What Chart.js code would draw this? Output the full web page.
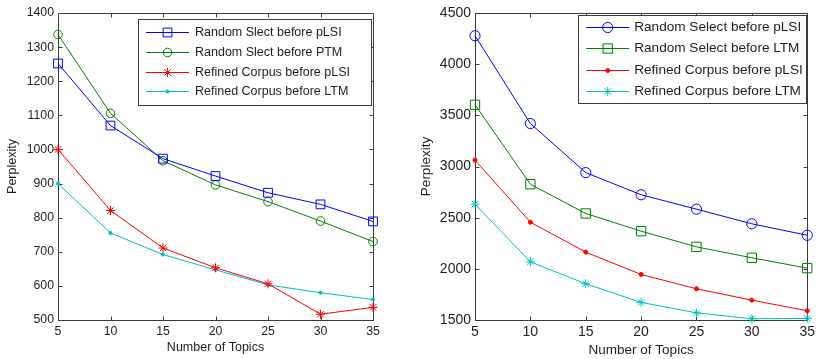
<!DOCTYPE html>
<html>
<head>
<meta charset="utf-8">
<script src="https://cdn.jsdelivr.net/npm/chart.js@4/dist/chart.umd.min.js"></script>
<style>
  html, body { margin: 0; padding: 0; background: #fff; }
  #wrap { position: relative; width: 819px; height: 359px; }
  #c1 { position: absolute; left: 0; top: 0; }
  #c2 { position: absolute; left: 410px; top: 0; }
</style>
</head>
<body>
<div id="wrap">
  <canvas id="c1" width="410" height="359"></canvas>
  <canvas id="c2" width="409" height="359"></canvas>
</div>
<script>
// Number of topics (shared x values)
const topics = [5, 10, 15, 20, 25, 30, 35];
const xTicks = [5, 10, 15, 20, 25, 30, 35];

// Left panel: perplexity per corpus / model
const randomSlectPlsi   = [1252, 1070, 973, 922, 873, 839, 789];
const randomSlectPtm    = [1337, 1106, 967, 896, 847, 790, 730];
const refinedPlsiLeft   = [1000, 821, 711, 653, 606, 517, 537];
const refinedLtmLeft    = [900, 755, 692, 647, 603, 580, 560];
const leftYTicks = [500, 600, 700, 800, 900, 1000, 1100, 1200, 1300, 1400];

// Right panel
const randomSelectPlsi  = [4278, 3420, 2940, 2724, 2583, 2440, 2328];
const randomSelectLtm   = [3603, 2827, 2541, 2368, 2215, 2108, 2007];
const refinedPlsiRight  = [3062, 2456, 2163, 1945, 1805, 1694, 1590];
const refinedLtmRight   = [2632, 2068, 1854, 1672, 1570, 1512, 1516];
const rightYTicks = [1500, 2000, 2500, 3000, 3500, 4000, 4500];

const BLUE = '#0000ff', GREEN = '#008000', RED = '#ff0000', CYAN = '#00bfbf';
const AXIS = '#3a3a3a', TEXT = '#1e1e1e';
const FAMILY = "'Liberation Sans', Arial, Helvetica, sans-serif";

function series(label, values, color, style, radius, filled) {
  return {
    label,
    data: topics.map((t, i) => ({ x: t, y: values[i] })),
    borderColor: color,
    backgroundColor: color,
    borderWidth: 1,
    pointStyle: style,
    pointRadius: radius,
    pointHoverRadius: radius,
    pointBorderWidth: 1,
    pointBorderColor: color,
    pointBackgroundColor: filled ? color : 'rgba(0,0,0,0)',
    tension: 0,
    clip: false
  };
}

// Axes box with MATLAB-style inward ticks, plus an in-plot legend
const boxPlugin = {
  id: 'boxAndLegend',
  beforeDatasetsDraw(chart) {
    const { ctx, chartArea: a, scales } = chart;
    ctx.save();
    ctx.strokeStyle = AXIS;
    ctx.lineWidth = 1;
    const L = Math.round(a.left) + 0.5, R = Math.round(a.right) + 0.5;
    const T = Math.round(a.top) + 0.5, B = Math.round(a.bottom) + 0.5;
    ctx.strokeRect(L, T, R - L, B - T);
    const tl = 4;
    ctx.beginPath();
    scales.x.ticks.forEach(t => {
      const px = Math.round(scales.x.getPixelForValue(t.value)) + 0.5;
      ctx.moveTo(px, B); ctx.lineTo(px, B - tl);
      ctx.moveTo(px, T); ctx.lineTo(px, T + tl);
    });
    scales.y.ticks.forEach(t => {
      const py = Math.round(scales.y.getPixelForValue(t.value)) + 0.5;
      ctx.moveTo(L, py); ctx.lineTo(L + tl, py);
      ctx.moveTo(R, py); ctx.lineTo(R - tl, py);
    });
    ctx.stroke();
    ctx.restore();
  },
  afterDatasetsDraw(chart, args, opts) {
    const { ctx, chartArea: a } = chart;
    const lg = opts;
    ctx.save();
    const x0 = a.right - lg.rightGap - lg.width;
    const y0 = a.top + lg.topGap;
    ctx.fillStyle = '#fff';
    ctx.fillRect(x0, y0, lg.width, lg.height);
    ctx.strokeStyle = AXIS;
    ctx.lineWidth = 1;
    ctx.strokeRect(Math.round(x0) + 0.5, Math.round(y0) + 0.5, Math.round(lg.width), Math.round(lg.height));
    ctx.font = lg.fontSize + 'px ' + FAMILY;
    ctx.textBaseline = 'middle';
    ctx.textAlign = 'left';
    chart.data.datasets.forEach((ds, i) => {
      const y = Math.round(y0 + lg.firstRow + i * lg.rowStep) + 0.5;
      const lx0 = x0 + lg.pad, lx1 = lx0 + lg.lineLen;
      ctx.strokeStyle = ds.borderColor;
      ctx.lineWidth = 1;
      ctx.beginPath();
      ctx.moveTo(lx0, y); ctx.lineTo(lx1, y);
      ctx.stroke();
      ctx.fillStyle = ds.pointBackgroundColor;
      ctx.strokeStyle = ds.pointBorderColor;
      Chart.helpers.drawPoint(ctx, {
        pointStyle: ds.pointStyle, radius: ds.pointRadius, rotation: 0, borderWidth: 1
      }, (lx0 + lx1) / 2, y);
      ctx.fillStyle = TEXT;
      ctx.fillText(ds.label, lx1 + lg.textGap, y);
    });
    ctx.restore();
  }
};

function makeChart(canvasId, datasets, yTicks, yMin, yMax, geom) {
  const fit = (w, h) => scale => {
    if (w !== null) scale.width = w;
    if (h !== null) scale.height = h;
  };
  return new Chart(document.getElementById(canvasId), {
    type: 'line',
    data: { datasets },
    plugins: [boxPlugin],
    options: {
      responsive: false,
      animation: false,
      events: [],
      layout: { padding: { left: 0, right: geom.padRight, top: geom.padTop, bottom: 0 } },
      plugins: {
        legend: { display: false },
        tooltip: { enabled: false },
        boxAndLegend: geom.legend
      },
      scales: {
        x: {
          type: 'linear',
          min: 5, max: 35,
          afterBuildTicks: s => { s.ticks = xTicks.map(v => ({ value: v })); },
          afterFit: fit(null, geom.xHeight),
          grid: { display: false, drawTicks: false },
          border: { display: false },
          ticks: {
            color: TEXT, padding: geom.xTickPad,
            font: { family: FAMILY, size: geom.tickSize },
            callback: v => String(v)
          },
          title: {
            display: true, text: 'Number of Topics', color: TEXT,
            font: { family: FAMILY, size: geom.titleSize },
            padding: { top: 0, bottom: geom.xTitlePad }
          }
        },
        y: {
          type: 'linear',
          min: yMin, max: yMax,
          afterBuildTicks: s => { s.ticks = yTicks.map(v => ({ value: v })); },
          afterFit: fit(geom.yWidth, null),
          grid: { display: false, drawTicks: false },
          border: { display: false },
          ticks: {
            color: TEXT, padding: geom.yTickPad,
            font: { family: FAMILY, size: geom.tickSize },
            callback: v => String(v)
          },
          title: {
            display: true, text: 'Perplexity', color: TEXT,
            font: { family: FAMILY, size: geom.titleSize },
            padding: { top: geom.yTitlePad, bottom: 0 }
          }
        }
      }
    }
  });
}

makeChart('c1', [
  series('Random Slect before pLSI', randomSlectPlsi, BLUE, 'rect', 6.2, false),
  series('Random Slect before PTM', randomSlectPtm, GREEN, 'circle', 4.3, false),
  series('Refined Corpus before pLSI', refinedPlsiLeft, RED, 'star', 4.5, false),
  series('Refined Corpus before LTM', refinedLtmLeft, CYAN, 'circle', 1.6, true)
], leftYTicks, 500, 1400, {
  padRight: 37, padTop: 13, yWidth: 58, xHeight: 39,
  tickSize: 12.3, titleSize: 12.5, xTickPad: 4, yTickPad: 4,
  xTitlePad: 3.5, yTitlePad: 5,
  legend: { width: 233, height: 86, rightGap: 2, topGap: 6, pad: 8, lineLen: 43,
            textGap: 6, firstRow: 13, rowStep: 19.8, fontSize: 12.5 }
});

makeChart('c2', [
  series('Random Select before pLSI', randomSelectPlsi, BLUE, 'circle', 5.1, false),
  series('Random Select before LTM', randomSelectLtm, GREEN, 'rect', 6.6, false),
  series('Refined Corpus before pLSI', refinedPlsiRight, RED, 'circle', 2, true),
  series('Refined Corpus before LTM', refinedLtmRight, CYAN, 'star', 4.5, false)
], rightYTicks, 1500, 4500, {
  padRight: 7, padTop: 13, yWidth: 65, xHeight: 39,
  tickSize: 14, titleSize: 13.5, xTickPad: 4, yTickPad: 4,
  xTitlePad: 1, yTitlePad: 8,
  legend: { width: 228, height: 88, rightGap: 1, topGap: 2, pad: 8, lineLen: 43,
            textGap: 5, firstRow: 12.2, rowStep: 21.2, fontSize: 13.6 }
});
</script>
</body>
</html>
